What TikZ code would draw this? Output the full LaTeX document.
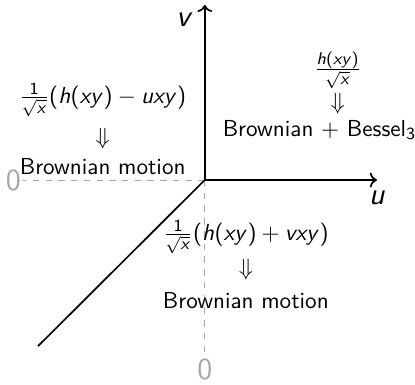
\documentclass[tikz,border=0pt]{standalone}
\usepackage{amsmath}
\usepackage{amssymb}
\usepackage{tikz}
\usetikzlibrary{arrows.meta, positioning}
\DeclareMathVersion{sf}
\SetSymbolFont{operators}{sf}{OT1}{cmss}{m}{n}
\SetSymbolFont{letters}{sf}{OT1}{cmss}{m}{sl}
\definecolor{zerogray}{HTML}{A6A6A6}
\tikzset{
  axis/.style={->, thick, black},
  guide/.style={dashed, color=zerogray},
  zero/.style={color=zerogray, inner sep=1pt, font=\sffamily\mathversion{sf}\Large},
  axlabel/.style={font=\sffamily\mathversion{sf}\Large},
  regime/.style={inner sep=1pt, font=\sffamily\mathversion{sf}\fontsize{10.9}{13}\selectfont},
}

\begin{document}
\begin{tikzpicture}[node distance=0.25cm]
  \useasboundingbox (-3.39,-3.38) rectangle (3.48,2.98);

  \coordinate (o) at (0,0);
  \coordinate (ve) at (0,2.90);
  \coordinate (ue) at (2.85,0);
  \coordinate (de) at (-2.76,-2.75);
  \node[zero] (zh) at (-3.17,0) {0};
  \node[zero] (zv) at (0,-3.13) {0};

  % zero levels
  \draw[guide] (o) -- (zh);
  \draw[guide] (o) -- (zv);

  % axes
  \draw[axis] (o) -- (ve);
  \draw[axis] (o) -- (ue);
  \draw[thick] (o) -- (de);
  \node[axlabel] (vl) at (-0.33,2.65) {$v$};
  \node[axlabel] (ul) at (2.86,-0.30) {$u$};

  % upper left
  \node[regime] (lf) at (-1.69,1.32) {$\frac{1}{\sqrt{x}}(h(xy)-uxy)$};
  \node[regime] (la) at (-1.69,0.68) {$\Downarrow$};
  \node[regime] (lb) at (-1.69,0.23) {Brownian motion};

  % upper right
  \node[regime] (rf) at (2.20,1.82) {$\frac{h(xy)}{\sqrt{x}}$};
  \node[regime] (ra) at (2.20,1.27) {$\Downarrow$};
  \node[regime] (rb) at (1.90,0.83) {Brownian $+$ Bessel$_3$};

  % lower
  \node[regime] (df) at (0.68,-0.94) {$\frac{1}{\sqrt{x}}(h(xy)+vxy)$};
  \node[regime] (da) at (0.68,-1.49) {$\Downarrow$};
  \node[regime] (db) at (0.68,-1.99) {Brownian motion};

\end{tikzpicture}
\end{document}
